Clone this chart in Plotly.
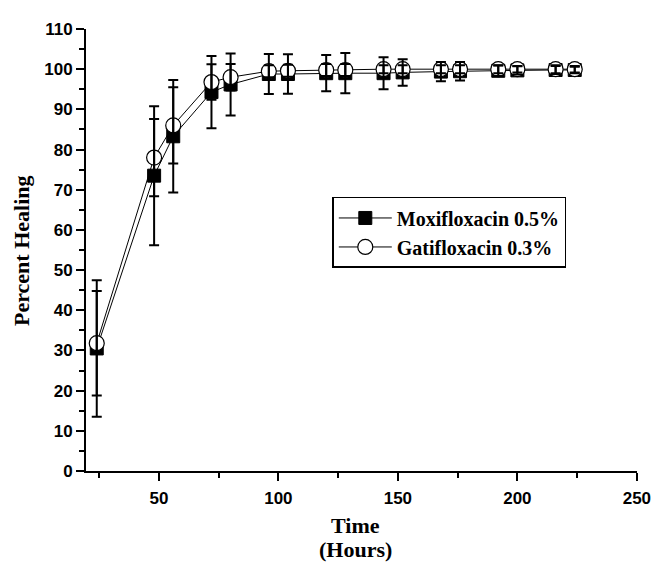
import plotly.graph_objects as go

# ---- data ----
hours = [24, 48, 56, 72, 80, 96, 104, 120, 128, 144, 152, 168, 176, 192, 200, 216, 224]
moxi = [30.5, 73.5, 83.3, 94.3, 96.2, 98.8, 98.8, 99.0, 99.0, 99.0, 99.2, 99.4, 99.5, 99.6, 99.7, 99.8, 99.8]
moxi_err = [17.0, 17.3, 14.0, 9.0, 7.7, 5.0, 4.9, 4.5, 5.0, 4.0, 3.3, 2.4, 2.3, 1.3, 1.0, 1.0, 0.8]
gati = [31.8, 78.0, 86.0, 96.8, 98.0, 99.5, 99.6, 99.8, 99.8, 100.0, 100.0, 100.0, 100.0, 100.0, 100.0, 100.0, 100.0]
gati_err = [13.0, 9.6, 9.5, 4.4, 3.3, 1.5, 1.5, 1.5, 1.5, 1.0, 1.0, 1.0, 1.0, 1.0, 0.8, 1.0, 0.8]

series_names = ["Moxifloxacin 0.5%", "Gatifloxacin 0.3%"]
x_tick_vals = [50, 100, 150, 200, 250]
y_tick_vals = list(range(0, 111, 10))

SERIF = "Liberation Serif, Times New Roman, serif"
SANS = "Liberation Sans, Arial, sans-serif"

fig = go.Figure()

fig.add_trace(go.Scatter(
    x=hours, y=moxi, name=series_names[0], mode="lines+markers",
    line=dict(color="black", width=1),
    marker=dict(symbol="square", size=13, color="black", line=dict(color="black", width=1)),
))
fig.add_trace(go.Scatter(
    x=hours, y=gati, name=series_names[1], mode="lines+markers",
    line=dict(color="black", width=1),
    marker=dict(symbol="circle", size=15, color="white", line=dict(color="black", width=1.2)),
))

# error bars drawn on top of the markers
for vals, errs in ((moxi, moxi_err), (gati, gati_err)):
    fig.add_trace(go.Scatter(
        x=hours, y=vals, mode="markers", showlegend=False, hoverinfo="skip",
        marker=dict(size=2, opacity=0),
        error_y=dict(type="data", array=errs, visible=True, color="black", thickness=2, width=5),
    ))

# page body has an 8px margin, so the figure is 8px smaller and margins shifted
fig.update_layout(
    width=655, height=554,
    margin=dict(l=78, r=16, t=12, b=91),
    paper_bgcolor="white", plot_bgcolor="white",
    showlegend=True,
    legend=dict(
        x=0.447, y=0.62, xanchor="left", yanchor="top",
        bordercolor="black", borderwidth=1.5, bgcolor="white",
        font=dict(family=SERIF, size=20, color="black", weight="bold"),
        itemwidth=53, tracegroupgap=0,
    ),
    xaxis=dict(
        range=[19.5, 250.05], tickmode="array", tickvals=x_tick_vals,
        ticks="outside", ticklen=8, tickwidth=2, tickcolor="black",
        showline=True, linewidth=2, linecolor="black",
        showgrid=False, zeroline=False, ticklabelstandoff=3,
        tickfont=dict(family=SANS, size=17, color="black", weight="bold"),
        minor=dict(tickvals=[25, 75, 125, 175, 225], ticks="outside", ticklen=5, tickwidth=2, tickcolor="black"),
    ),
    yaxis=dict(
        range=[0, 110], tickmode="array", tickvals=y_tick_vals,
        ticks="outside", ticklen=8, tickwidth=2, tickcolor="black",
        showline=True, linewidth=2, linecolor="black",
        showgrid=False, zeroline=False,
        tickfont=dict(family=SANS, size=17, color="black", weight="bold"),
        minor=dict(tickvals=list(range(5, 110, 10)), ticks="outside", ticklen=5, tickwidth=2, tickcolor="black"),
    ),
    annotations=[
        dict(text="Percent Healing", xref="paper", yref="paper", x=-0.118, y=0.5,
             textangle=-90, showarrow=False, xanchor="center", yanchor="middle",
             font=dict(family=SERIF, size=22, color="black", weight="bold")),
        dict(text="Time", xref="paper", yref="paper", x=0.49, y=-0.124,
             showarrow=False, xanchor="center", yanchor="middle",
             font=dict(family=SERIF, size=22, color="black", weight="bold")),
        dict(text="(Hours)", xref="paper", yref="paper", x=0.49, y=-0.178,
             showarrow=False, xanchor="center", yanchor="middle",
             font=dict(family=SERIF, size=22, color="black", weight="bold")),
    ],
)

fig.write_html("out.html")
